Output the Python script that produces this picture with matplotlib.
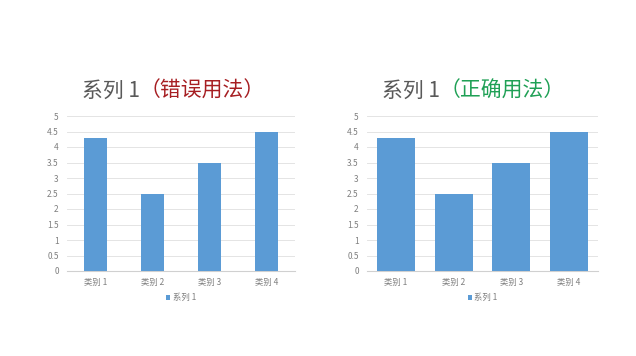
import matplotlib.pyplot as plt
import numpy as np

plt.rcParams['font.family'] = ['Noto Sans CJK SC', 'DejaVu Sans']

categories = ['类别 1', '类别 2', '类别 3', '类别 4']
values = [4.3, 2.5, 3.5, 4.5]
series_name = '系列 1'
y_ticks = [0, 0.5, 1, 1.5, 2, 2.5, 3, 3.5, 4, 4.5, 5]
y_tick_labels = ['0', '0.5', '1', '1.5', '2', '2.5', '3', '3.5', '4', '4.5', '5']
title_main = '系列 1'
title_wrong = '（错误用法）'
title_right = '（正确用法）'

BAR = '#5b9bd5'
GRAY_TXT = '#7f7f7f'
TITLE_GRAY = '#595959'


def draw_chart(ax, bar_width):
    x = np.arange(len(categories))
    ax.bar(x, values, width=bar_width, color=BAR, label=series_name, zorder=3)
    ax.set_xlim(-0.5, len(categories) - 0.5)
    ax.set_ylim(0, 5)
    ax.set_yticks(y_ticks)
    ax.set_yticklabels(y_tick_labels)
    ax.set_xticks(x)
    ax.set_xticklabels(categories)
    ax.tick_params(axis='both', length=0, labelsize=6, labelcolor=GRAY_TXT)
    ax.tick_params(axis='y', pad=6)
    ax.tick_params(axis='x', pad=5)
    ax.grid(axis='y', color='#e4e4e4', linewidth=0.7, zorder=0)
    for s in ['top', 'right', 'left']:
        ax.spines[s].set_visible(False)
    ax.spines['bottom'].set_color('#d0d0d0')
    ax.spines['bottom'].set_linewidth(0.8)
    ax.legend(loc='upper center', bbox_to_anchor=(0.5, -0.095), frameon=False,
              fontsize=6, labelcolor=GRAY_TXT, handlelength=0.5,
              handleheight=0.5, handletextpad=0.3)


def draw_title(fig, x, y, colored, color):
    # gray part first, then the coloured part glued to its right edge
    t1 = fig.text(x, y, title_main, fontsize=15, color=TITLE_GRAY,
                  ha='left', va='bottom')
    fig.add_artist(plt.Annotation(colored, xy=(1, 0), xycoords=t1,
                                  fontsize=15, color=color, ha='left',
                                  va='bottom', annotation_clip=False))


fig = plt.figure(figsize=(6.36, 3.56), dpi=100)
ax1 = fig.add_axes([67 / 636, 1 - 271 / 356, 228 / 636, 155 / 356])
ax2 = fig.add_axes([367 / 636, 1 - 271 / 356, 231 / 636, 155 / 356])

draw_chart(ax1, 0.4)
draw_chart(ax2, 0.66)

draw_title(fig, 82 / 636, 1 - 102 / 356, title_wrong, '#a61e22')
draw_title(fig, 382 / 636, 1 - 102 / 356, title_right, '#1fa055')

fig.savefig('out.png', dpi=100)
